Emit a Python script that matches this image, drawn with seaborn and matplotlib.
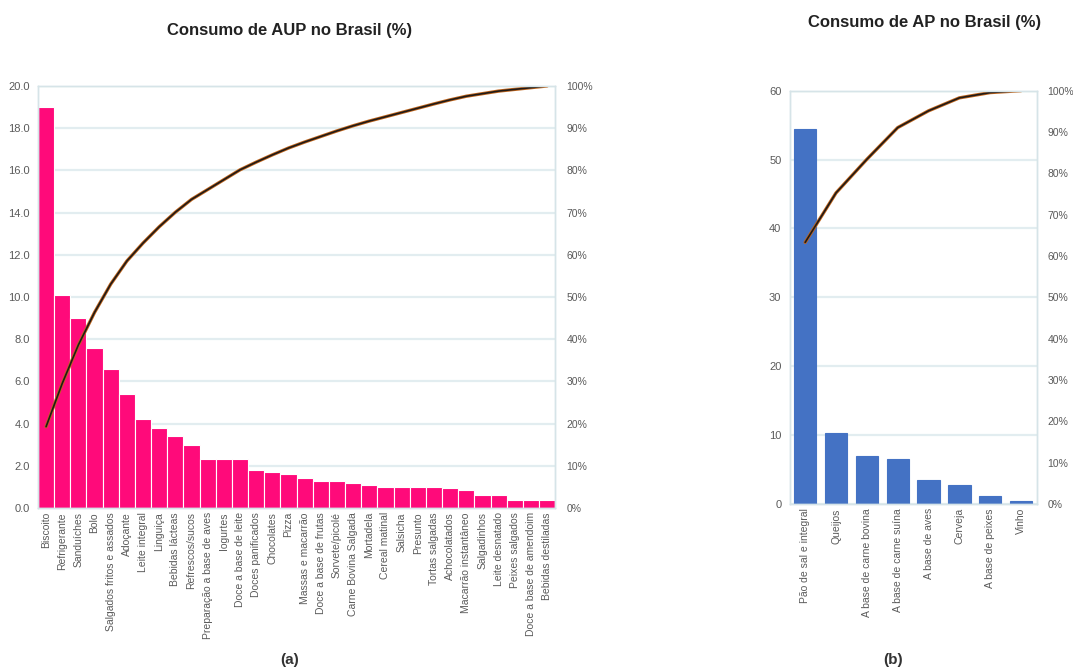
import numpy as np
import matplotlib
matplotlib.use("Agg")
import matplotlib.pyplot as plt
from matplotlib.ticker import FuncFormatter
import seaborn as sns

sns.set_theme(style="white")
plt.rcParams["font.family"] = ["Liberation Sans", "DejaVu Sans"]

# Ultraprocessados (AUP)
aup_itens = [
    "Biscoito", "Refrigerante", "Sanduíches", "Bolo", "Salgados fritos e assados",
    "Adoçante", "Leite integral", "Linguiça", "Bebidas lácteas", "Refrescos/sucos",
    "Preparação a base de aves", "Iogurtes", "Doce a base de leite", "Doces panificados",
    "Chocolates", "Pizza", "Massas e macarrão", "Doce a base de frutas", "Sorvete/picolé",
    "Carne Bovina Salgada", "Mortadela", "Cereal matinal", "Salsicha", "Presunto",
    "Tortas salgadas", "Achocolatados", "Macarrão instantâneo", "Salgadinhos",
    "Leite desnatado", "Peixes salgados", "Doce a base de amendoim", "Bebidas destiladas",
]
aup_valores = [
    19.0, 10.1, 9.0, 7.6, 6.6, 5.4, 4.2, 3.8, 3.4, 3.0,
    2.3, 2.3, 2.3, 1.8, 1.7, 1.6, 1.4, 1.3, 1.3, 1.2,
    1.1, 1.0, 1.0, 1.0, 1.0, 0.95, 0.85, 0.6, 0.6, 0.4,
    0.4, 0.4,
]

# Processados (AP)
ap_itens = [
    "Pão de sal e integral", "Queijos", "A base de carne bovina", "A base de carne suína",
    "A base de aves", "Cerveja", "A base de peixes", "Vinho",
]
ap_valores = [54.5, 10.3, 7.0, 6.6, 3.5, 2.7, 1.1, 0.4]

grid_col = "#e2edf0"
spine_col = "#d6e4e8"
tick_col = "#5a5a5a"

fig = plt.figure(figsize=(10.73, 6.71), dpi=100)


def pareto(ax, itens, valores, cor, largura, ymax, ystep, fmt):
    n = len(itens)
    sns.barplot(x=itens, y=valores, color=cor, width=largura, saturation=1,
                edgecolor="white" if largura >= 1 else cor, linewidth=0.8, ax=ax)
    ax.set_xlim(-0.5, n - 0.5)
    ax.set_ylim(0, ymax)
    ax.set_yticks(np.arange(0, ymax + 0.001, ystep))
    ax.yaxis.set_major_formatter(FuncFormatter(fmt))
    ax.yaxis.grid(True, color=grid_col, linewidth=1.6)
    ax.set_axisbelow(True)
    ax.tick_params(axis="x", labelrotation=90, labelsize=7.5, colors=tick_col, length=0, pad=3)
    ax.tick_params(axis="y", labelsize=8, colors=tick_col, length=0, pad=6)
    for s in ax.spines.values():
        s.set_color(spine_col)
        s.set_linewidth(1.0)

    acum = np.cumsum(valores) / np.sum(valores) * 100
    ax2 = ax.twinx()
    sns.lineplot(x=np.arange(n), y=acum, color="#c0651c", linewidth=2.4, ax=ax2)
    sns.lineplot(x=np.arange(n), y=acum, color="#1f1a17", linewidth=1.2, ax=ax2)
    ax2.set_ylim(0, 100)
    ax2.set_yticks(np.arange(0, 101, 10))
    ax2.yaxis.set_major_formatter(FuncFormatter(lambda v, p: f"{v:.0f}%"))
    ax2.tick_params(axis="y", labelsize=7.5, colors=tick_col, length=0, pad=8)
    ax2.grid(False)
    for s in ax2.spines.values():
        s.set_color(spine_col)
        s.set_linewidth(1.0)
    ax.set_xlabel("")
    ax.set_ylabel("")
    ax2.set_ylabel("")
    return ax2


ax_a = fig.add_axes([0.0354, 0.2429, 0.482, 0.629])
pareto(ax_a, aup_itens, aup_valores, "#ff0a7a", 1.0, 20, 2, lambda v, p: f"{v:.1f}")

ax_b = fig.add_axes([0.736, 0.2489, 0.230, 0.616])
pareto(ax_b, ap_itens, ap_valores, "#4472c4", 0.72, 60, 10, lambda v, p: f"{v:.0f}")

fig.text(0.270, 0.955, "Consumo de AUP no Brasil (%)", ha="center", va="center",
         fontsize=12, fontweight="bold", color="#222222")
fig.text(0.862, 0.966, "Consumo de AP no Brasil (%)", ha="center", va="center",
         fontsize=12, fontweight="bold", color="#222222")
fig.text(0.270, 0.016, "(a)", ha="center", va="center", fontsize=11,
         fontweight="bold", color="#333333")
fig.text(0.832, 0.016, "(b)", ha="center", va="center", fontsize=11,
         fontweight="bold", color="#333333")

fig.savefig("out.png", dpi=100)
